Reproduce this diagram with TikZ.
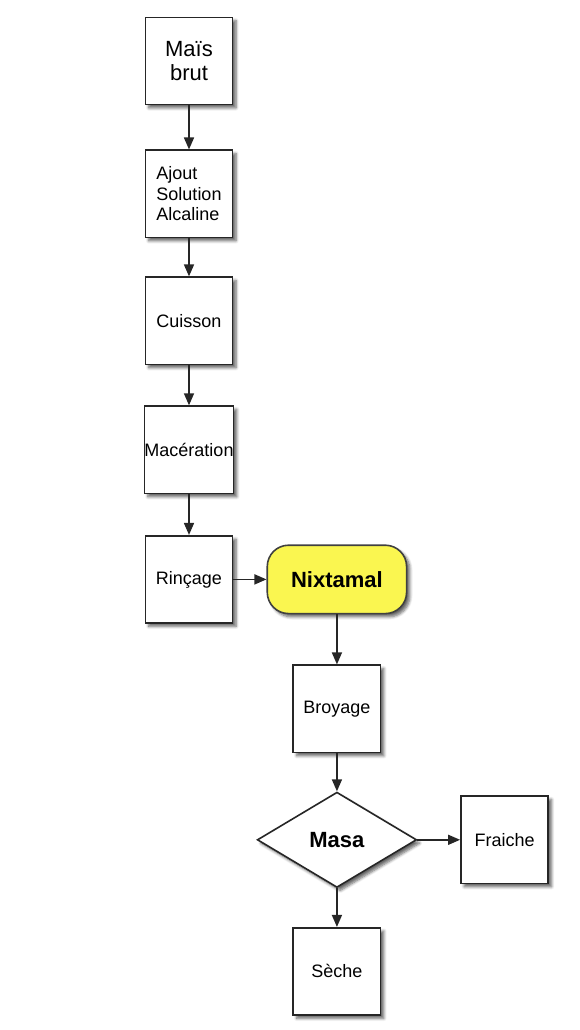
\documentclass[tikz,border=0pt]{standalone}
\usepackage{fontspec}
\setmainfont{Liberation Sans}
\usetikzlibrary{positioning,shapes.geometric,arrows.meta,shadows.blur}

\definecolor{jaune}{RGB}{250,246,80}

\begin{document}
\begin{tikzpicture}[x=0.75pt,y=-0.75pt,node distance=30pt]
  \tikzstyle{ombre}=[blur shadow={shadow xshift=2.5pt,shadow yshift=-2.5pt,shadow blur steps=6,shadow opacity=60}]
  \tikzstyle{etape}=[rectangle,draw=black!85,line width=1.2pt,fill=white,minimum width=65.5pt,minimum height=65.5pt,inner sep=0pt,align=left,font=\fontsize{13.5}{15.4}\selectfont,ombre]
  \tikzstyle{produit}=[rectangle,rounded corners=16pt,draw=black!75,line width=1.2pt,fill=jaune,minimum width=104.5pt,minimum height=51.3pt,font=\bfseries\fontsize{16.5}{18}\selectfont,ombre]
  \tikzstyle{choix}=[diamond,draw=black!85,line width=1.2pt,fill=white,minimum width=119.5pt,minimum height=71.5pt,aspect=1.67,inner sep=0pt,font=\bfseries\fontsize{16.5}{18}\selectfont,ombre]
  \tikzstyle{fleche}=[-{Triangle[length=9pt,width=7.5pt]},line width=1.2pt,black!85]
  \useasboundingbox (0,0) rectangle (579,1030);
  \node[etape,align=center,font=\fontsize{16.5}{18}\selectfont] (mais) at (189,61) {Maïs\\brut};
  \node[etape,below=33pt of mais] (ajout) {Ajout\\Solution\\Alcaline};
  \node[etape,below=28.5pt of ajout] (cuisson) {Cuisson};
  \node[etape,below=30pt of cuisson] (maceration) {Macération};
  \node[etape,below=30.5pt of maceration] (rincage) {Rinçage};
  \node[produit,right=24.75pt of rincage] (nixtamal) {Nixtamal};
  \node[etape,below=37.5pt of nixtamal] (broyage) {Broyage};
  \node[choix,below=28.5pt of broyage] (masa) {Masa};
  \node[etape,right=32pt of masa] (fraiche) {Fraiche};
  \node[etape,below=29pt of masa] (seche) {Sèche};
  % liens
  \draw[fleche] (mais) -- (ajout);
  \draw[fleche] (ajout) -- (cuisson);
  \draw[fleche] (cuisson) -- (maceration);
  \draw[fleche] (maceration) -- (rincage);
  \draw[fleche] (rincage) -- (nixtamal);
  \draw[fleche] (nixtamal) -- (broyage);
  \draw[fleche] (broyage) -- (masa);
  \draw[fleche] (masa) -- (fraiche);
  \draw[fleche] (masa) -- (seche);
\end{tikzpicture}
\end{document}
